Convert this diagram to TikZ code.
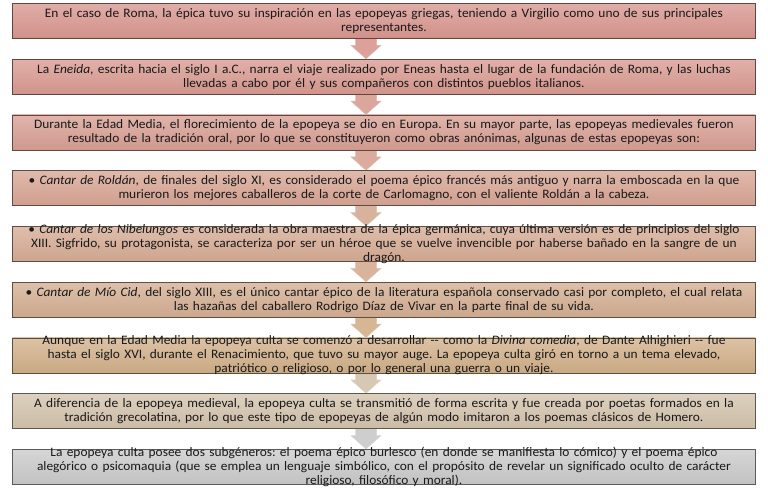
\documentclass[tikz,border=0pt]{standalone}
\usepackage{fontspec}
\setmainfont[FakeStretch=1.04]{Carlito}
\usetikzlibrary{calc,backgrounds}
\definecolor{c1}{HTML}{D9968F}
\definecolor{c2}{HTML}{D99A91}
\definecolor{c3}{HTML}{D89F93}
\definecolor{c4}{HTML}{D8A594}
\definecolor{c5}{HTML}{D6AB94}
\definecolor{c6}{HTML}{D4AE92}
\definecolor{c7}{HTML}{D2B08A}
\definecolor{c8}{HTML}{D3C3AC}
\definecolor{c9}{HTML}{CACACA}
\tikzset{
  stepbox/.style={draw=#1!45!black, line width=0.9pt, top color=#1!78!white, bottom color=#1!96!black,
    minimum width=743pt, minimum height=35pt, inner sep=0pt, anchor=north west},
  steptext/.style={font=\fontsize{12.9}{14}\selectfont, text width=745pt, align=center, inner sep=0pt, text=black!90},
  arrowfill/.style={fill=#1!92!white, draw=#1!75!white, line width=0.5pt}
}
\begin{document}
\frenchspacing
\begin{tikzpicture}[x=1pt,y=1pt]
\useasboundingbox (0,0) rectangle (768,-495);
\foreach \i in {1,...,9}{
  \node[stepbox=c\i] (b\i) at (12,{-3-55.75*(\i-1)}) {};
}
\begin{scope}[on background layer]
\foreach \i [evaluate=\i as \j using int(\i+1)] in {1,...,8}{
  \draw[arrowfill=c\j] ($(b\i.south west)+(343.5,0.4)$) -- ++(21,0) -- ++(0,-6.9) -- ++(4.5,0)
     -- ($(b\j.north west)+(354,0)$) -- ($(b\i.south west)+(339,-6.5)$) -- ++(4.5,0) -- cycle;
}
\end{scope}
\node[steptext] (t1) at (b1.center) {En el caso de Roma, la épica tuvo su inspiración en las epopeyas griegas, teniendo a Virgilio como uno de sus principales\\ representantes.};
\node[steptext] (t2) at (b2.center) {La \textit{Eneida}, escrita hacia el siglo I a.C., narra el viaje realizado por Eneas hasta el lugar de la fundación de Roma, y las luchas\\ llevadas a cabo por él y sus compañeros con distintos pueblos italianos.};
\node[steptext] (t3) at (b3.center) {Durante la Edad Media, el florecimiento de la epopeya se dio en Europa. En su mayor parte, las epopeyas medievales fueron\\ resultado de la tradición oral, por lo que se constituyeron como obras anónimas, algunas de estas epopeyas son:};
\node[steptext] (t4) at (b4.center) {• \textit{Cantar de Roldán}, de finales del siglo XI, es considerado el poema épico francés más antiguo y narra la emboscada en la que\\ murieron los mejores caballeros de la corte de Carlomagno, con el valiente Roldán a la cabeza.};
\node[steptext] (t5) at (b5.center) {• \textit{Cantar de los Nibelungos} es considerada la obra maestra de la épica germánica, cuya última versión es de principios del siglo\\ XIII. Sigfrido, su protagonista, se caracteriza por ser un héroe que se vuelve invencible por haberse bañado en la sangre de un\\ dragón.};
\node[steptext] (t6) at (b6.center) {• \textit{Cantar de Mío Cid}, del siglo XIII, es el único cantar épico de la literatura española conservado casi por completo, el cual relata\\ las hazañas del caballero Rodrigo Díaz de Vivar en la parte final de su vida.};
\node[steptext] (t7) at (b7.center) {Aunque en la Edad Media la epopeya culta se comenzó a desarrollar -{}- como la \textit{Divina comedia}, de Dante Alhighieri -{}- fue\\ hasta el siglo XVI, durante el Renacimiento, que tuvo su mayor auge. La epopeya culta giró en torno a un tema elevado,\\ patriótico o religioso, o por lo general una guerra o un viaje.};
\node[steptext] (t8) at (b8.center) {A diferencia de la epopeya medieval, la epopeya culta se transmitió de forma escrita y fue creada por poetas formados en la\\ tradición grecolatina, por lo que este tipo de epopeyas de algún modo imitaron a los poemas clásicos de Homero.};
\node[steptext] (t9) at (b9.center) {La epopeya culta posee dos subgéneros: el poema épico burlesco (en donde se manifiesta lo cómico) y el poema épico\\ alegórico o psicomaquia (que se emplea un lenguaje simbólico, con el propósito de revelar un significado oculto de carácter\\ religioso, filosófico y moral).};
\end{tikzpicture}
\end{document}
